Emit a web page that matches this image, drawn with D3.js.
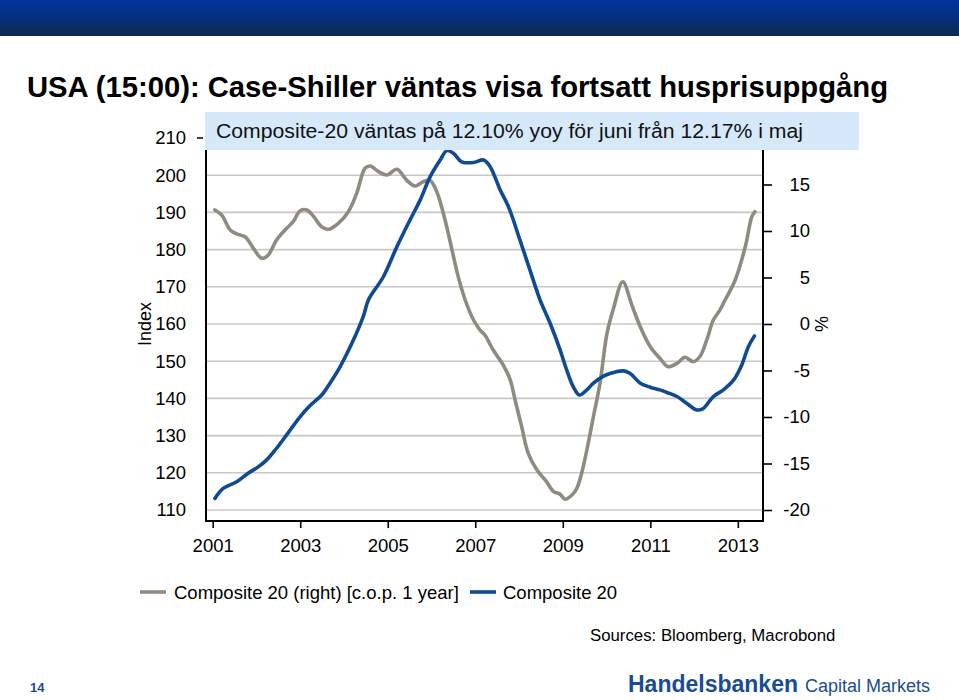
<!DOCTYPE html>
<html>
<head>
<meta charset="utf-8">
<script src="https://cdn.jsdelivr.net/npm/d3@7"></script>
<style>
  html, body { margin: 0; padding: 0; background: #fff; }
  svg { display: block; font-family: "Liberation Sans", Arial, sans-serif; }
</style>
</head>
<body>
<svg id="chart" width="959" height="700"></svg>
<script>
// ---- Data ----
const title = "USA (15:00): Case-Shiller väntas visa fortsatt husprisuppgång";
const note = "Composite-20 väntas på 12.10% yoy för juni från 12.17% i maj";
const seriesNames = ["Composite 20 (right) [c.o.p. 1 year]", "Composite 20"];

// Composite 20 index (left axis), decimal years
const indexYears = [2001.05,2001.24,2001.55,2001.81,2002.04,2002.23,2002.46,2002.69,2003.00,2003.22,2003.49,2003.68,2003.91,
  2004.18,2004.44,2004.56,2004.90,2005.21,2005.51,2005.74,2005.97,2006.20,2006.35,2006.50,2006.69,2006.96,2007.19,2007.34,
  2007.57,2007.76,2008.02,2008.25,2008.48,2008.71,2008.94,2009.09,2009.24,2009.38,2009.55,2009.70,2009.93,2010.08,2010.38,
  2010.54,2010.77,2011.00,2011.22,2011.38,2011.61,2011.83,2012.06,2012.21,2012.44,2012.67,2012.90,2013.09,2013.24,2013.38];
const indexValues = [113.1,115.8,117.6,119.9,121.6,123.4,126.6,130.2,135.1,138.0,140.9,144.1,148.5,
  154.8,162.0,166.5,172.7,180.8,188.0,193.3,199.6,204.1,206.6,205.9,203.6,203.4,204.1,202.3,
  196.0,191.5,182.6,174.5,166.5,160.2,153.0,147.6,143.1,140.9,142.3,144.1,146.0,146.7,147.4,
  146.7,144.1,143.0,142.3,141.6,140.5,138.7,136.9,137.3,140.5,142.3,144.9,149.0,153.9,156.8];

// Composite 20 year-over-year change, % (right axis)
const yoyYears = [2001.05,2001.21,2001.40,2001.55,2001.74,2001.93,2002.12,2002.27,2002.46,2002.69,2002.84,2003.00,2003.15,
  2003.30,2003.49,2003.64,2003.87,2004.10,2004.29,2004.48,2004.60,2004.79,2004.98,2005.21,2005.43,2005.62,2005.81,2005.97,
  2006.12,2006.31,2006.46,2006.61,2006.77,2006.96,2007.11,2007.22,2007.41,2007.64,2007.80,2007.91,2008.06,2008.21,2008.41,
  2008.63,2008.79,2008.94,2009.05,2009.21,2009.32,2009.43,2009.55,2009.70,2009.85,2010.01,2010.16,2010.37,2010.58,2010.77,
  2011.00,2011.22,2011.41,2011.61,2011.79,2011.98,2012.13,2012.29,2012.44,2012.59,2012.71,2012.94,2013.17,2013.32,2013.39];
const yoyValues = [12.26,11.7,10.1,9.68,9.39,8.14,7.06,7.42,9.03,10.29,11.0,12.18,12.26,
  11.6,10.46,10.18,10.83,12.08,14.05,16.74,16.99,16.38,16.02,16.63,15.48,14.84,15.3,15.41,
  14.23,11.18,8.14,5.09,2.58,0.43,-0.65,-1.18,-2.8,-4.41,-6.02,-8.17,-11.04,-13.9,-15.7,
  -16.96,-18.03,-18.3,-18.85,-18.39,-17.67,-16.05,-13.55,-9.96,-6.38,-1.0,1.7,4.55,2.0,-0.29,
  -2.44,-3.69,-4.59,-4.23,-3.58,-4.05,-3.52,-1.72,0.43,1.5,2.58,4.73,8.31,11.54,12.08];

const leftTicks = [110,120,130,140,150,160,170,180,190,200,210];
const rightTicks = [-20,-15,-10,-5,0,5,10,15];
const xTicks = [2001,2003,2005,2007,2009,2011,2013];

// ---- Layout ----
const svg = d3.select("#chart");
const plot = { left: 206, right: 763, top: 150, bottom: 521 };
const colGray = "#8f8b80", colBlue = "#0f4a93";
const fontFam = "Liberation Sans, Arial, sans-serif";
const tickFont = 18.5;

const x = d3.scaleLinear().domain([2000.847, 2013.575]).range([plot.left, plot.right]);
const yL = d3.scaleLinear().domain([110, 210]).range([510, 138]);
const yR = d3.scaleLinear().domain([-20, 20]).range([510, 138]);

// banner
const defs = svg.append("defs");
const grad = defs.append("linearGradient").attr("id", "band").attr("x1", 0).attr("y1", 0).attr("x2", 0).attr("y2", 1);
grad.append("stop").attr("offset", "0%").attr("stop-color", "#0236a0");
grad.append("stop").attr("offset", "55%").attr("stop-color", "#062f78");
grad.append("stop").attr("offset", "100%").attr("stop-color", "#0b2a4c");
svg.append("rect").attr("x", 0).attr("y", 0).attr("width", 959).attr("height", 36).attr("fill", "url(#band)");

// title
svg.append("text").attr("x", 27).attr("y", 97)
  .attr("font-size", 29).attr("font-weight", "bold").attr("fill", "#000")
  .attr("textLength", 861).attr("lengthAdjust", "spacingAndGlyphs")
  .text(title);

// gridlines
svg.append("g").selectAll("line").data(leftTicks.filter(d => d < 210)).join("line")
  .attr("x1", plot.left).attr("x2", plot.right)
  .attr("y1", d => yL(d)).attr("y2", d => yL(d))
  .attr("stroke", "#c8c8c8").attr("stroke-width", 1.6);

// left axis
const gL = svg.append("g").attr("transform", `translate(${plot.left},0)`)
  .call(d3.axisLeft(yL).tickValues(leftTicks).tickFormat(d => String(d)).tickSize(0).tickPadding(20));
gL.select(".domain").remove();
gL.selectAll("text").attr("font-size", tickFont).attr("fill", "#000").attr("font-family", fontFam);
svg.append("line").attr("x1", 197).attr("x2", 203).attr("y1", yL(210)).attr("y2", yL(210)).attr("stroke", "#000").attr("stroke-width", 1.5);

// right axis
const gR = svg.append("g").attr("transform", `translate(${plot.right},0)`)
  .call(d3.axisRight(yR).tickValues(rightTicks).tickFormat(d => String(d)).tickSize(9).tickPadding(0));
gR.select(".domain").remove();
gR.selectAll("line").attr("stroke", "#000").attr("stroke-width", 1.6);
gR.selectAll("text").attr("font-size", tickFont).attr("fill", "#000").attr("text-anchor", "end")
  .attr("x", 47).attr("font-family", fontFam);

// bottom axis
const gX = svg.append("g").attr("transform", `translate(0,${plot.bottom})`)
  .call(d3.axisBottom(x).tickValues(xTicks).tickFormat(d => String(d)).tickSize(7).tickPadding(11));
gX.select(".domain").remove();
gX.selectAll("line").attr("stroke", "#000").attr("stroke-width", 1.6);
gX.selectAll("text").attr("font-size", tickFont).attr("fill", "#000").attr("font-family", fontFam);

// axis frame lines
const frame = svg.append("g").attr("stroke", "#000").attr("stroke-width", 2).attr("fill", "none");
frame.append("path").attr("d", `M${plot.left},${plot.top}V${plot.bottom}H${plot.right}V${plot.top}`);

// axis titles
svg.append("text").attr("transform", `translate(151,324) rotate(-90)`)
  .attr("text-anchor", "middle").attr("font-size", 18).attr("fill", "#000").text("Index");
svg.append("text").attr("transform", `translate(815,324) rotate(90)`)
  .attr("text-anchor", "middle").attr("font-size", 18).attr("fill", "#000").text("%");

// lines
const yoyData = yoyYears.map((t, i) => ({ t, v: yoyValues[i] }));
const idxData = indexYears.map((t, i) => ({ t, v: indexValues[i] }));
svg.append("path").datum(yoyData)
  .attr("fill", "none").attr("stroke", colGray).attr("stroke-width", 3.6).attr("stroke-linejoin", "round").attr("stroke-linecap", "round")
  .attr("d", d3.line().x(d => x(d.t)).y(d => yR(d.v)).curve(d3.curveCatmullRom.alpha(0.5)));
svg.append("path").datum(idxData)
  .attr("fill", "none").attr("stroke", colBlue).attr("stroke-width", 3.6).attr("stroke-linejoin", "round").attr("stroke-linecap", "round")
  .attr("d", d3.line().x(d => x(d.t)).y(d => yL(d.v)).curve(d3.curveCatmullRom.alpha(0.5)));

// annotation box
svg.append("rect").attr("x", 205).attr("y", 112).attr("width", 654).attr("height", 38).attr("fill", "#d5e9fb");
svg.append("text").attr("x", 216).attr("y", 138).attr("font-size", 20).attr("fill", "#111")
  .attr("textLength", 587).attr("lengthAdjust", "spacingAndGlyphs").text(note);

// legend
const legend = svg.append("g").attr("font-size", 18.5).attr("fill", "#000");
const legItems = [
  { name: seriesNames[0], color: colGray, x0: 140, tx: 174 },
  { name: seriesNames[1], color: colBlue, x0: 470, tx: 503 }
];
legItems.forEach(it => {
  legend.append("line").attr("x1", it.x0).attr("x2", it.x0 + 26).attr("y1", 592).attr("y2", 592)
    .attr("stroke", it.color).attr("stroke-width", 3.6);
  legend.append("text").attr("x", it.tx).attr("y", 598.5).text(it.name);
});

// sources
svg.append("text").attr("x", 590).attr("y", 641).attr("font-size", 16.8).attr("fill", "#000")
  .text("Sources: Bloomberg, Macrobond");

// logo
const logo = svg.append("text").attr("x", 628).attr("y", 692).attr("fill", "#1a4c94");
logo.append("tspan").attr("font-size", 23).attr("font-weight", "bold").text("Handelsbanken");
logo.append("tspan").attr("font-size", 18).attr("dx", 7).text("Capital Markets");

// page number
svg.append("text").attr("x", 30).attr("y", 692).attr("font-size", 13).attr("font-weight", "bold")
  .attr("fill", "#1a4c94").text("14");
</script>
</body>
</html>
